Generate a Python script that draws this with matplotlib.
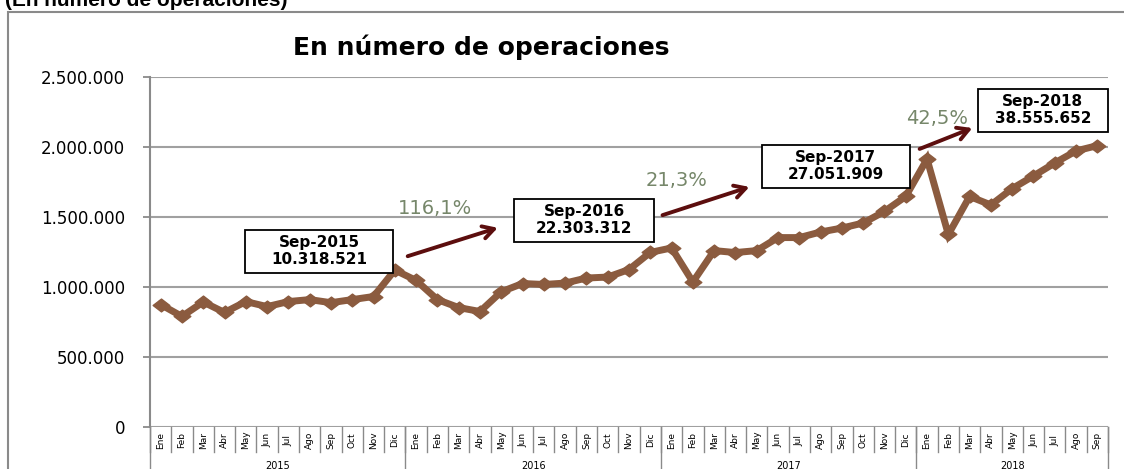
import matplotlib
matplotlib.use("Agg")
import matplotlib.pyplot as plt
from matplotlib.patches import Rectangle
from matplotlib.lines import Line2D
from matplotlib.path import Path

# ---- data ----
years = ["2015", "2016", "2017", "2018"]
months = ["Ene", "Feb", "Mar", "Abr", "May", "Jun", "Jul", "Ago", "Sep", "Oct", "Nov", "Dic"]
values_2015 = [875000, 790000, 893000, 818000, 896000, 860000, 896000, 910000, 888000, 910000, 932000, 1121000]
values_2016 = [1047000, 910000, 853000, 825000, 966000, 1025000, 1018000, 1028000, 1064000, 1071000, 1125000, 1247000]
values_2017 = [1279000, 1036000, 1260000, 1246000, 1260000, 1353000, 1353000, 1393000, 1421000, 1457000, 1540000, 1647000]
values_2018 = [1914000, 1375000, 1647000, 1586000, 1703000, 1793000, 1886000, 1972000, 2010000]

yticks = [0, 500000, 1000000, 1500000, 2000000, 2500000]
ytick_labels = ["0", "500.000", "1.000.000", "1.500.000", "2.000.000", "2.500.000"]

box_labels = ["Sep-2015\n10.318.521", "Sep-2016\n22.303.312", "Sep-2017\n27.051.909", "Sep-2018\n38.555.652"]
growth_labels = ["116,1%", "21,3%", "42,5%"]

series = values_2015 + values_2016 + values_2017 + values_2018
counts = [len(values_2015), len(values_2016), len(values_2017), len(values_2018)]
labels = []
for c in counts:
    labels += months[:c]
x = list(range(len(series)))

W, H = 1124, 469
fig = plt.figure(figsize=(W / 100, H / 100), dpi=100)
fig.patch.set_facecolor("white")

def fx(px):
    return px / W

def fy(py):
    return 1 - py / H

# outer chart border
fig.add_artist(Rectangle((fx(8), fy(480)), fx(1130) - fx(8), fy(12) - fy(480),
                         transform=fig.transFigure, fill=False, edgecolor="#8a8a8a", lw=1.5, clip_on=False))

fig.text(fx(5), fy(1), "(En número de operaciones)", fontsize=15, fontweight="bold",
         family="Liberation Sans", ha="left", va="center")

L, R, T, B = 150, 1108, 77, 427
ax = fig.add_axes([fx(L), fy(B), fx(R) - fx(L), fy(T) - fy(B)])
ax.set_xlim(-0.5, len(series) - 0.5)
ax.set_ylim(0, 2500000)
ax.set_yticks(yticks)
ax.set_yticklabels(ytick_labels, fontsize=12)
ax.tick_params(axis="y", length=5, width=1.3, color="#8a8a8a", pad=13)
ax.set_xticks([])
for s in ["top", "right", "bottom"]:
    ax.spines[s].set_visible(False)
ax.spines["left"].set_color("#8a8a8a")
ax.spines["left"].set_linewidth(1.5)
ax.grid(axis="y", color="#a0a0a0", lw=1.5)
ax.set_axisbelow(True)

diamond = Path([(0, 1), (1.3, 0), (0, -1), (-1.3, 0), (0, 1)],
               [Path.MOVETO, Path.LINETO, Path.LINETO, Path.LINETO, Path.CLOSEPOLY])
ax.plot(x, series, color="#8B5B3F", lw=5, marker=diamond, markersize=12,
        markerfacecolor="#8B5B3F", markeredgecolor="#8B5B3F", solid_joinstyle="miter", zorder=3)

fig.text(fx(481), fy(47), "En número de operaciones", fontsize=18, fontweight="bold",
         ha="center", va="center")

# x axis category labels
trans = ax.get_xaxis_transform()
ax_h_px = B - T
def ay(py):
    return (B - py) / ax_h_px

for i, lab in enumerate(labels):
    ax.text(i, ay(440), lab, rotation=90, fontsize=6.5, ha="center", va="center",
            transform=trans, clip_on=False)
for i in range(len(series) + 1):
    ax.add_line(Line2D([i - 0.5, i - 0.5], [ay(427), ay(452)], transform=trans,
                       color="#8a8a8a", lw=1, clip_on=False))
start = 0
bounds = [0]
for c in counts:
    start += c
    bounds.append(start)
for b in bounds:
    ax.add_line(Line2D([b - 0.5, b - 0.5], [ay(427), ay(475)], transform=trans,
                       color="#8a8a8a", lw=1, clip_on=False))
for k, yr in enumerate(years):
    ax.text((bounds[k] + bounds[k + 1] - 1) / 2, ay(466), yr, fontsize=7, ha="center", va="center",
            transform=trans, clip_on=False)

# annotation boxes (center in data units, size in pixels)
cat_px = (R - L) / len(series)
val_per_px = 2500000 / (B - T)
box_pos = [(7.44, 1257000), (19.89, 1478000), (31.72, 1864000), (41.44, 2264000)]
box_w_px = [148, 140, 148, 130]
box_h_px = 43
for (bx, by), bw, txt in zip(box_pos, box_w_px, box_labels):
    w = bw / cat_px
    h = box_h_px * val_per_px
    ax.add_patch(Rectangle((bx - w / 2, by - h / 2), w, h, facecolor="white",
                           edgecolor="black", lw=1.3, zorder=5, clip_on=False))
    ax.text(bx, by, txt, fontsize=11, fontweight="bold", ha="center", va="center",
            linespacing=1.1, zorder=6, clip_on=False)

arrows = [((11.48, 1214000), (15.96, 1429000)),
          ((23.45, 1507000), (27.78, 1721000)),
          ((35.53, 1979000), (38.25, 2143000))]
for (x0, y0), (x1, y1) in arrows:
    ax.annotate("", xy=(x1, y1), xytext=(x0, y0), zorder=6,
                arrowprops=dict(arrowstyle="->,head_length=0.8,head_width=0.45", color="#5C0E0E", lw=2.8))

growth_pos = [(12.89, 1564000), (24.25, 1764000), (36.47, 2207000)]
for (gx, gy), txt in zip(growth_pos, growth_labels):
    ax.text(gx, gy, txt, fontsize=14, color="#76876A", ha="center", va="center", zorder=6)

fig.savefig("out.png", dpi=100)
